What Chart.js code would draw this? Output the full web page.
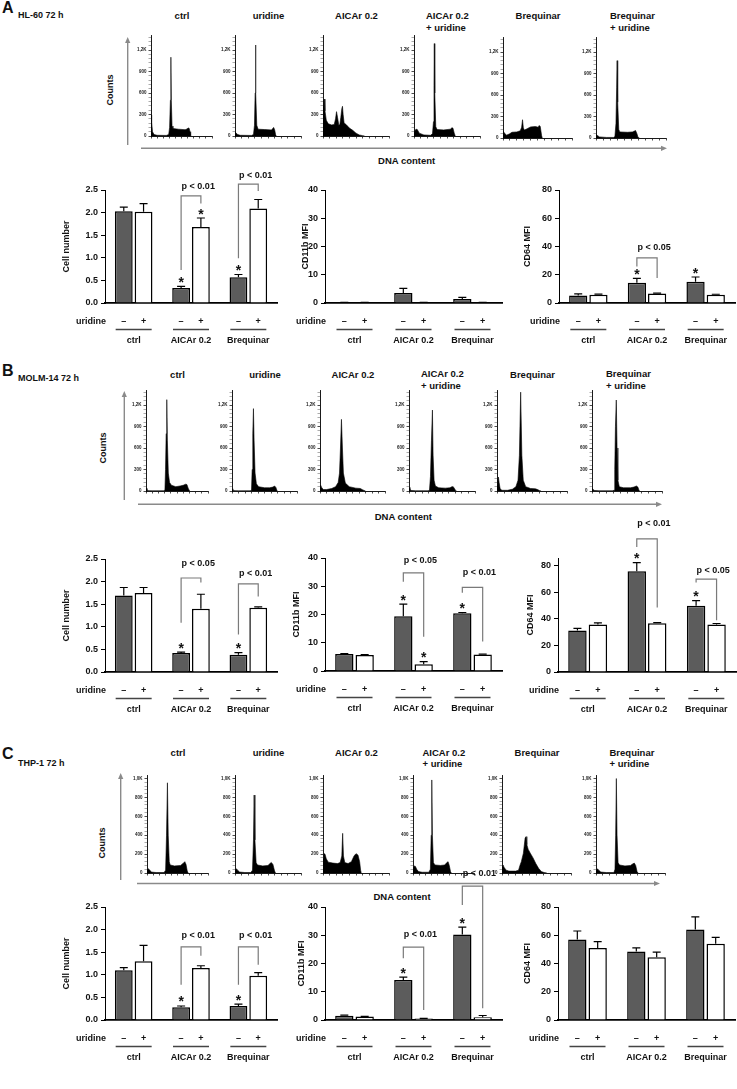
<!DOCTYPE html>
<html>
<head>
<meta charset="utf-8">
<script src="https://cdn.jsdelivr.net/npm/chart.js@4.4.1/dist/chart.umd.min.js"></script>
<style>
  body { margin: 0; background: #fff; }
  #fig { position: relative; width: 737px; height: 1089px; overflow: hidden;
         font-family: "Liberation Sans", Arial, sans-serif; font-weight: bold; color: #111; }
  #fig canvas { position: absolute; }
  .t { position: absolute; white-space: pre; line-height: 11.6px; }
  svg { position: absolute; left: 0; top: 0; }
</style>
</head>
<body>
<div id="fig">
  <svg width="737" height="1089" id="arrows"></svg>
</div>
<script>
// ---- data ----
const groups = ['ctrl', 'AICAr 0.2', 'Brequinar'];
const histTitles = ['ctrl', 'uridine', 'AICAr 0.2', 'AICAr 0.2\n+ uridine', 'Brequinar', 'Brequinar\n+ uridine'];

// DNA histograms: [channel (% of axis), counts]
const hl60Hist = [
  [[0,294],[1,200],[2.5,60],[5,20],[10,10],[25,8],[29,20],[30.5,120],[31.8,500],[32.6,1100],[33.3,500],[34.5,140],[36,105],[45,95],[56,88],[59,98],[61,112],[62.5,108],[64,60],[65,10],[66,0]],
  [[0,55],[2,40],[4,20],[8,10],[25,8],[28,20],[29.5,150],[30.5,600],[31,1270],[31.7,600],[33,150],[35,95],[45,90],[55,85],[57,100],[58.5,120],[60,90],[61.5,20],[62.5,0]],
  [[0,420],[1,500],[2,515],[3,350],[5,220],[8,170],[13,155],[17,160],[19,240],[20.5,340],[22,260],[24,150],[25.5,160],[27,260],[28.5,380],[29.5,415],[30.5,300],[32,180],[35,160],[40,110],[45,80],[50,40],[55,15],[60,5],[63,0]],
  [[0,60],[3,95],[5,90],[8,40],[15,15],[25,10],[28,30],[29.5,200],[30.3,700],[30.8,1290],[31.5,600],[33,130],[35,90],[45,85],[55,95],[57.5,115],[59,110],[61,40],[62.5,0]],
  [[0,100],[2,70],[5,40],[9,55],[13,80],[20,85],[25,100],[27,150],[28.3,255],[29.5,140],[31,110],[35,130],[40,155],[47,160],[51,150],[52.5,175],[54,160],[56,30],[57,0]],
  [[0,50],[2,35],[5,15],[15,8],[25,8],[27,20],[28.5,200],[29.5,700],[30.2,1080],[31,500],[32.5,120],[34,85],[45,80],[52,85],[55,98],[56.5,105],[58.5,60],[60,10],[61,0]]
];
const molmHist = [
  [[0,40],[1.5,30],[3,5],[10,2],[28,3],[30.5,10],[31.5,300],[32.5,800],[33.5,1275],[34.5,700],[36,250],[38,120],[41,80],[48,60],[55,70],[60,80],[64,95],[66,90],[68,40],[70,5],[71,0]],
  [[0,30],[1.5,20],[3,5],[10,2],[28,3],[30,10],[31,300],[32,800],[33,1150],[34,700],[35.5,250],[37.5,100],[41,60],[50,45],[58,45],[63,55],[65.5,70],[67.5,50],[69,10],[70,0]],
  [[0,60],[1,80],[2.5,50],[5,20],[10,20],[18,35],[24,60],[28,120],[30,250],[31.5,600],[33,1000],[34.5,600],[36,250],[39,110],[45,60],[55,40],[62,35],[66,15],[70,0]],
  [[0,50],[1.5,30],[3,8],[10,3],[29,3],[31,10],[32.5,200],[34,700],[35.5,1130],[36.5,500],[38,150],[40,70],[45,45],[55,40],[62,45],[65,60],[67,60],[69.5,25],[71,5],[72,0]],
  [[0,80],[1,150],[2,195],[3,120],[4.5,30],[7,10],[15,10],[22,25],[27,60],[30,150],[32,500],[33.8,1380],[35.5,500],[37.5,150],[41,60],[48,35],[55,30],[58,20],[61,5],[63,0]],
  [[0,40],[1.5,25],[3,8],[10,3],[29,3],[31.5,10],[32.5,300],[33.5,900],[34.7,1270],[35.8,600],[37,150],[39,60],[45,45],[55,45],[60,55],[63.5,70],[65.5,55],[67,15],[68,0]]
];
const thpHist = [
  [[0,30],[2,45],[4,35],[7,10],[15,5],[28,5],[30.5,30],[32,400],[33.5,955],[34.8,400],[36.5,120],[38,85],[45,75],[55,80],[59,100],[62,120],[64,90],[66,20],[67.5,0]],
  [[0,35],[2,45],[4,30],[7,10],[15,5],[24,5],[26.5,30],[28,350],[29,825],[30.2,350],[32,110],[34,85],[42,75],[50,80],[53,100],[55,112],[57.5,90],[60,20],[61.5,0]],
  [[0,150],[1.5,205],[3,200],[5,150],[8,115],[15,105],[22,100],[26,110],[28.5,180],[29.8,420],[31,180],[33,110],[38,100],[43,120],[47,180],[50,205],[53,190],[55.5,120],[57,30],[58,0]],
  [[0,40],[2,75],[4,70],[6,40],[9,15],[15,8],[26,8],[28.5,40],[29.8,400],[30.8,985],[31.8,400],[33.5,110],[36,85],[45,80],[52,85],[55.5,110],[57.5,120],[59.5,80],[61.5,15],[63,0]],
  [[0,60],[1.5,85],[3,60],[6,30],[10,20],[20,20],[24,30],[26,80],[28,120],[31,210],[33.5,370],[34.8,385],[36,300],[38,250],[41,210],[45,160],[49,100],[53,50],[57,15],[61,5],[65,0]],
  [[0,30],[2,45],[4,30],[7,10],[15,5],[26,5],[27.5,40],[28.5,400],[29.5,1000],[30.5,400],[32,110],[34,85],[42,75],[50,80],[53,95],[55.5,105],[57.5,80],[59.5,15],[61,0]]
];

// bar charts, one row per group: [mean uridine -, SD, mean uridine +, SD]
const hl60Cells = [[2.03, 0.09, 2.02, 0.18], [0.33, 0.04, 1.68, 0.2], [0.57, 0.06, 2.09, 0.2]];
const hl60CellStars = [0, 0, 1, 1, 1, 0];
// brackets: [group, top, left end, right end, label height, label]
const hl60CellSig = [[1, 2.37, 0.73, 2.2, 2.57, 'p < 0.01'], [2, 2.63, 0.99, 2.48, 2.83, 'p < 0.01']];

const hl60Cd11b = [[0.2, 0.05, 0.2, 0.05], [3.5, 1.7, 0.15, 0.05], [1.4, 0.6, 0.2, 0.05]];
const hl60Cd11bStars = [0, 0, 0, 0, 0, 0];
const hl60Cd11bSig = [];

const hl60Cd64 = [[5.3, 1.2, 5.9, 0.4], [14.4, 3, 6.7, 0.3], [15.1, 3.3, 5.9, 0.3]];
const hl60Cd64Stars = [0, 0, 1, 0, 1, 0];
const hl60Cd64Sig = [[1, 31.9, 25.9, 17.7, 39.6, 'p < 0.05']];

const molmCells = [[1.69, 0.18, 1.75, 0.12], [0.42, 0.02, 1.4, 0.32], [0.38, 0.05, 1.42, 0.02]];
const molmCellStars = [0, 0, 1, 0, 1, 0];
const molmCellSig = [[1, 2.08, 1.09, 1.98, 2.4, 'p < 0.05'], [2, 1.95, 0.83, 1.67, 2.17, 'p < 0.01']];

const molmCd11b = [[6.0, 0.2, 5.7, 0.1], [19.4, 4.3, 2.4, 0.9], [20.4, 0.3, 5.8, 0.2]];
const molmCd11bStars = [0, 0, 1, 1, 1, 0];
const molmCd11bSig = [[1, 34.7, 31.6, 12.1, 39.2, 'p < 0.05'], [2, 29.6, 27.7, 10.4, 35, 'p < 0.01']];

const molmCd64 = [[31.3, 1.6, 35.8, 1.3], [76, 6.5, 36.8, 0.5], [50, 3.8, 35.8, 0.8]];
const molmCd64Stars = [0, 0, 1, 0, 1, 0];
const molmCd64Sig = [[1, 100.4, 94.3, 48.6, 112, 'p < 0.01'], [2, 70, 67.5, 39, 76.2, 'p < 0.05']];

const thpCells = [[1.1, 0.06, 1.3, 0.35], [0.28, 0.03, 1.15, 0.05], [0.31, 0.04, 0.98, 0.07]];
const thpCellStars = [0, 0, 1, 0, 1, 0];
const thpCellSig = [[1, 1.62, 0.78, 1.42, 1.88, 'p < 0.01'], [2, 1.62, 0.78, 1.22, 1.88, 'p < 0.01']];

const thpCd11b = [[1.5, 0.2, 1.2, 0.1], [14.2, 1.0, 0.5, 0.1], [30.3, 2.6, 1.0, 0.6]];
const thpCd11bStars = [0, 0, 1, 0, 1, 0];
const thpCd11bSig = [[1, 25.8, 21.9, 3.5, 30.1, 'p < 0.01'], [2, 47.4, 40.7, 4.2, 51.7, 'p < 0.01']];

const thpCd64 = [[57, 6, 51, 4.5], [48.5, 2.5, 44.5, 3.5], [64, 9, 54, 4.5]];
const thpCd64Stars = [0, 0, 0, 0, 0, 0];
const thpCd64Sig = [];

// ---- helpers ----
const fig = document.getElementById('fig');
const FONT = '"Liberation Sans", Arial, sans-serif';

function put(str, x, y, size, how) {
  const d = document.createElement('div');
  d.className = 't';
  d.textContent = str;
  d.style.fontSize = size + 'px';
  d.style.left = x + 'px';
  d.style.top = y + 'px';
  d.style.transform = how || 'translate(-50%,-50%)';
  fig.appendChild(d);
}

function addCanvas(left, top, w, h) {
  const c = document.createElement('canvas');
  c.width = Math.round(w);
  c.height = Math.round(h);
  c.style.left = Math.round(left) + 'px';
  c.style.top = Math.round(top) + 'px';
  fig.appendChild(c);
  return c;
}

function kLabel(v) {
  return v >= 1000 ? (v / 1000).toFixed(1).replace('.', ',') + 'K' : String(v);
}

function drawHist(pts, x0, x1, yTop, yZero, yMax, minor, major) {
  const padT = 3, padR = 2, axW = 17, axH = 5;
  const cv = addCanvas(x0 - axW, yTop - padT, x1 - x0 + axW + padR, yZero - yTop + padT + axH);
  new Chart(cv, {
    type: 'line',
    data: {
      datasets: [{
        data: pts.map(p => ({ x: p[0], y: p[1] })),
        fill: 'origin', backgroundColor: '#000', borderColor: '#000',
        borderWidth: 0.6, pointRadius: 0, tension: 0
      }]
    },
    options: {
      responsive: false, animation: false, events: [],
      layout: { padding: { top: padT, right: padR, left: 0, bottom: 0 } },
      plugins: { legend: { display: false }, tooltip: { enabled: false } },
      scales: {
        x: {
          type: 'linear', min: 0, max: 100,
          afterFit: s => { s.height = axH; },
          ticks: { stepSize: 10, callback: () => '', autoSkip: false, maxRotation: 0 },
          grid: { drawOnChartArea: false, tickLength: 2.5, color: '#000', lineWidth: 0.7 },
          border: { color: '#000', width: 0.9 }
        },
        y: {
          min: 0, max: yMax,
          afterFit: s => { s.width = axW; },
          ticks: {
            stepSize: minor, autoSkip: false, includeBounds: false, padding: 2,
            color: '#222', font: { family: FONT, size: 4.5, weight: 'bold' },
            callback: v => (v % major ? '' : kLabel(v))
          },
          grid: {
            drawOnChartArea: false, tickLength: 2.5, lineWidth: 0.7,
            color: c => (c.tick && c.tick.value % major ? '#888' : '#000')
          },
          border: { color: '#000', width: 0.9 }
        }
      }
    }
  });
}

// error bars, stars, significance brackets and the uridine / group rows
const barExtras = {
  id: 'barExtras',
  afterDraw(chart, args, o) {
    const { ctx, chartArea: ca } = chart;
    const y = chart.scales.y;
    const lo = chart.getDatasetMeta(0).data, hi = chart.getDatasetMeta(1).data;
    ctx.save();
    o.vals.forEach((r, g) => {
      [lo[g], hi[g]].forEach((bar, k) => {
        const top = y.getPixelForValue(r[2 * k] + r[2 * k + 1]);
        ctx.strokeStyle = '#000';
        ctx.lineWidth = 1.2;
        ctx.beginPath();
        ctx.moveTo(bar.x, bar.y);
        ctx.lineTo(bar.x, top);
        ctx.moveTo(bar.x - 4, top);
        ctx.lineTo(bar.x + 4, top);
        ctx.stroke();
        if (o.stars[2 * g + k]) {
          ctx.fillStyle = '#111';
          ctx.font = 'bold 14px ' + FONT;
          ctx.textAlign = 'center';
          ctx.textBaseline = 'alphabetic';
          ctx.fillText('*', bar.x, top + 0.5);
        }
      });
    });
    o.sig.forEach(([g, t, l, rr, ty, label]) => {
      const xl = lo[g].x, xr = hi[g].x, yt = y.getPixelForValue(t);
      ctx.strokeStyle = '#7a7a7a';
      ctx.lineWidth = 1.2;
      ctx.beginPath();
      ctx.moveTo(xl, y.getPixelForValue(l));
      ctx.lineTo(xl, yt);
      ctx.lineTo(xr, yt);
      ctx.lineTo(xr, y.getPixelForValue(rr));
      ctx.stroke();
      ctx.fillStyle = '#111';
      ctx.font = 'bold 9px ' + FONT;
      ctx.textAlign = 'left';
      ctx.textBaseline = 'middle';
      ctx.fillText(label, xl + 0.5, y.getPixelForValue(ty));
    });
    ctx.fillStyle = '#111';
    ctx.font = 'bold 9px ' + FONT;
    ctx.textBaseline = 'middle';
    const yr = ca.bottom + 19;
    ctx.textAlign = 'right';
    ctx.fillText('uridine', ca.left + 1, yr);
    ctx.textAlign = 'center';
    groups.forEach((name, g) => {
      ctx.fillText('\u2013', lo[g].x, yr);
      ctx.fillText('+', hi[g].x, yr);
      const cx = (lo[g].x + hi[g].x) / 2;
      ctx.strokeStyle = '#444';
      ctx.lineWidth = 1.3;
      ctx.beginPath();
      ctx.moveTo(cx - 18, ca.bottom + 26.5);
      ctx.lineTo(cx + 18, ca.bottom + 26.5);
      ctx.stroke();
      ctx.fillText(name, cx, ca.bottom + 38);
    });
    ctx.restore();
  }
};

function drawBars(b) {
  const padT = 44, padR = 3, axW = 48, axH = 48;
  const cv = addCanvas(b.axX - axW, b.top - padT, b.x1 - b.axX + axW + padR, b.zero - b.top + padT + axH);
  new Chart(cv, {
    type: 'bar',
    data: {
      labels: groups,
      datasets: [
        { data: b.vals.map(r => r[0]), backgroundColor: '#5c5c5c' },
        { data: b.vals.map(r => r[2]), backgroundColor: '#fff' }
      ]
    },
    options: {
      responsive: false, animation: false, events: [],
      layout: { padding: { top: padT, right: padR, left: 0, bottom: 0 } },
      datasets: { bar: { borderColor: '#000', borderWidth: 1.5, categoryPercentage: 0.69, barPercentage: 0.9 } },
      plugins: {
        legend: { display: false }, tooltip: { enabled: false },
        barExtras: { vals: b.vals, stars: b.stars, sig: b.sig }
      },
      scales: {
        x: {
          afterFit: s => { s.height = axH; },
          ticks: { display: false },
          grid: { drawOnChartArea: false, drawTicks: false },
          border: { color: '#000', width: 1.8 }
        },
        y: {
          min: 0, max: b.yMax,
          afterFit: s => { s.width = axW; },
          ticks: {
            stepSize: b.step, autoSkip: false, includeBounds: false, padding: 3,
            color: '#111', font: { family: FONT, size: 9, weight: 'bold' },
            callback: v => v.toFixed(b.dec)
          },
          grid: { drawOnChartArea: false, tickLength: 4, color: '#000', lineWidth: 1 },
          border: { color: '#000', width: 1 },
          title: {
            display: true, text: b.title, color: '#111',
            font: { family: FONT, size: 9, weight: 'bold' },
            padding: { top: b.titleX - (b.axX - axW) - 5.4, bottom: 0 }
          }
        }
      }
    },
    plugins: [barExtras]
  });
}

// ---- layout ----
const panels = [
  { letter: 'A', line: 'HL-60 72 h', letterY: 7.5, lineY: 15.5, titleY: 16.3,
    hist: hl60Hist, max: 1400, minor: 60, major: 300,
    xs: [[151, 213], [235, 302], [323, 390], [414, 481], [503, 573], [596, 667]],
    zero: [135.3, 135.3, 135.3, 135.3, 137.3, 137.3], pxPerCount: 87 / 1200,
    countsX: 111, countsY: 90, vArrow: [127.7, 37, 145], hArrow: [148.3, 141, 667], dnaX: 406.7, dnaY: 160.7,
    bars: [
      { vals: hl60Cells, stars: hl60CellStars, sig: hl60CellSig, title: 'Cell number', axX: 105, x1: 277, top: 190, zero: 303, yMax: 2.5, step: 0.5, dec: 1, titleX: 67 },
      { vals: hl60Cd11b, stars: hl60Cd11bStars, sig: hl60Cd11bSig, title: 'CD11b MFI', axX: 325, x1: 502, top: 190, zero: 303, yMax: 40, step: 10, dec: 0, titleX: 306 },
      { vals: hl60Cd64, stars: hl60Cd64Stars, sig: hl60Cd64Sig, title: 'CD64 MFI', axX: 559, x1: 735, top: 190, zero: 303, yMax: 80, step: 20, dec: 0, titleX: 528 }
    ] },
  { letter: 'B', line: 'MOLM-14 72 h', letterY: 371, lineY: 379.3, titleY: 374.5,
    hist: molmHist, max: 1400, minor: 60, major: 300,
    xs: [[146, 209], [232, 298], [320, 386], [409, 476], [497, 568], [592, 663]],
    zero: [491, 491, 491, 491, 491.5, 490.7], pxPerCount: 87.5 / 1200,
    countsX: 104, countsY: 448, vArrow: [124.3, 391, 500], hArrow: [504.3, 138, 662], dnaX: 403.3, dnaY: 517.3,
    bars: [
      { vals: molmCells, stars: molmCellStars, sig: molmCellSig, title: 'Cell number', axX: 105, x1: 277, top: 559.3, zero: 672.3, yMax: 2.5, step: 0.5, dec: 1, titleX: 67 },
      { vals: molmCd11b, stars: molmCd11bStars, sig: molmCd11bSig, title: 'CD11b MFI', axX: 325, x1: 502, top: 557.7, zero: 671, yMax: 40, step: 10, dec: 0, titleX: 297 },
      { vals: molmCd64, stars: molmCd64Stars, sig: molmCd64Sig, title: 'CD64 MFI', axX: 557.5, x1: 735, top: 558, zero: 671.7, yMax: 86, step: 20, dec: 0, titleX: 530 }
    ] },
  { letter: 'C', line: 'THP-1 72 h', letterY: 754, lineY: 764, titleY: 753,
    hist: thpHist, max: 1030, minor: 40, major: 200,
    xs: [[147, 209], [235, 302], [323, 390], [413, 475], [502, 572], [596, 666]],
    zero: [873.3, 873.3, 873.3, 873.3, 873.3, 873.3], pxPerCount: 96 / 1000,
    countsX: 103.3, countsY: 843, vArrow: [120.7, 773, 880], hArrow: [883.5, 137, 660], dnaX: 402, dnaY: 896.5,
    bars: [
      { vals: thpCells, stars: thpCellStars, sig: thpCellSig, title: 'Cell number', axX: 105, x1: 277, top: 907, zero: 1020, yMax: 2.5, step: 0.5, dec: 1, titleX: 67 },
      { vals: thpCd11b, stars: thpCd11bStars, sig: thpCd11bSig, title: 'CD11b MFI', axX: 325, x1: 502, top: 907, zero: 1020, yMax: 40, step: 10, dec: 0, titleX: 302 },
      { vals: thpCd64, stars: thpCd64Stars, sig: thpCd64Sig, title: 'CD64 MFI', axX: 558, x1: 735, top: 907, zero: 1020, yMax: 80, step: 20, dec: 0, titleX: 528 }
    ] }
];

const svg = document.getElementById('arrows');
function svgAdd(tag, attrs) {
  const el = document.createElementNS('http://www.w3.org/2000/svg', tag);
  for (const k in attrs) el.setAttribute(k, attrs[k]);
  svg.appendChild(el);
}

panels.forEach(p => {
  put(p.letter, 2, p.letterY, 16, 'translate(0,-50%)');
  put(p.line, 18, p.lineY, 9, 'translate(0,-50%)');

  // histogram titles
  histTitles.forEach((t, i) => {
    const [x0, x1] = p.xs[i];
    if (t.includes('\n')) {
      put(t, (x0 + x1) / 2 - 21.5, p.titleY + 5.8, 9.5, 'translate(0,-50%)');
    } else {
      put(t, (x0 + x1) / 2, p.titleY, 9.5);
    }
  });

  p.hist.forEach((pts, i) => {
    const [x0, x1] = p.xs[i];
    const yTop = p.zero[i] - p.max * p.pxPerCount;
    drawHist(pts, x0, x1, yTop, p.zero[i], p.max, p.minor, p.major);
  });

  // axis arrows
  const [vx, vy0, vy1] = p.vArrow;
  svgAdd('line', { x1: vx, y1: vy0 + 5, x2: vx, y2: vy1, stroke: '#8a8a8a', 'stroke-width': 1.4 });
  svgAdd('polygon', { points: `${vx - 2.6},${vy0 + 6} ${vx + 2.6},${vy0 + 6} ${vx},${vy0}`, fill: '#8a8a8a' });
  const [hy, hx0, hx1] = p.hArrow;
  svgAdd('line', { x1: hx0, y1: hy, x2: hx1 - 5, y2: hy, stroke: '#8a8a8a', 'stroke-width': 1.4 });
  svgAdd('polygon', { points: `${hx1 - 6},${hy - 2.6} ${hx1 - 6},${hy + 2.6} ${hx1},${hy}`, fill: '#8a8a8a' });
  put('Counts', p.countsX, p.countsY, 9, 'translate(-50%,-50%) rotate(-90deg)');
  put('DNA content', p.dnaX, p.dnaY, 9.5);

  p.bars.forEach(drawBars);
});
</script>
</body>
</html>
